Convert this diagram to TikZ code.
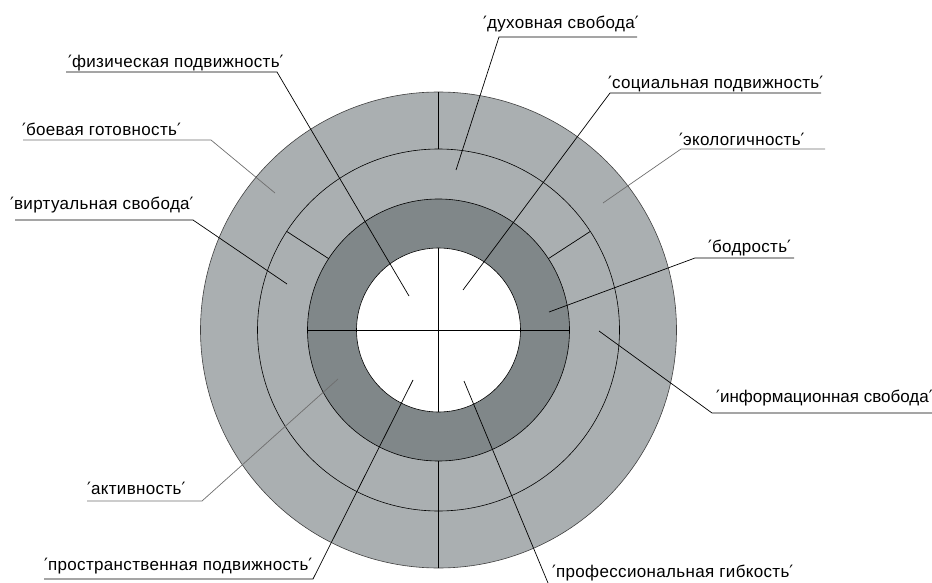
\documentclass[tikz,border=0pt]{standalone}
\usepackage{fontspec}
\usetikzlibrary{calc}
\setmainfont{Liberation Sans}
\newfontfamily\spacedfont{Liberation Sans}[LetterSpace=2]
\newfontfamily\primefont{DejaVu Sans}
\newcommand{\pq}{{\primefont ′}}
\definecolor{ringlight}{RGB}{170,175,177}
\definecolor{ringdark}{RGB}{128,135,137}
\definecolor{leadgray}{RGB}{110,110,110}
\begin{document}
\begin{tikzpicture}[x=1pt,y=-1pt,
  lbl/.style={anchor=base west, inner sep=0pt, font=\spacedfont\fontsize{17}{20}\selectfont},
  lblplain/.style={anchor=base west, inner sep=0pt, font=\rmfamily\fontsize{17}{20}\selectfont},
  lead/.style={line width=0.7pt, black},
  leadg/.style={line width=0.7pt, leadgray},
  ring/.style={draw=black, line width=0.6pt},
  divider/.style={line width=0.7pt, black}]
\useasboundingbox (0,0) rectangle (932,583);
\coordinate (C) at (438.5,330);
% rings
\draw[ring, draw=black!75, fill=ringlight] (C) circle (238pt);
\draw[ring, fill=ringlight] (C) circle (181pt);
\draw[ring, fill=ringdark] (C) circle (131pt);
\draw[ring, fill=white] (C) circle (82pt);
% dividers
\draw[divider] ($(C)+(90:181pt)$) -- ($(C)+(90:238pt)$);
\draw[divider] ($(C)+(270:131pt)$) -- ($(C)+(270:238pt)$);
\draw[divider] ($(C)+(33:131pt)$) -- ($(C)+(33:181pt)$);
\draw[divider] ($(C)+(147:131pt)$) -- ($(C)+(147:181pt)$);
\draw[divider] ($(C)+(0:131pt)$) -- ($(C)+(180:131pt)$);
\draw[divider] ($(C)+(90:82pt)$) -- ($(C)+(270:82pt)$);
% labels
\node[lbl] (t1) at (483,29) {\pq духовная свобода\pq};
\coordinate (u1a) at (499,37); \coordinate (u1b) at (637,37); \coordinate (e1) at (456,170);
\draw[lead] (e1) -- (u1a) -- (u1b);

\node[lbl] (t2) at (68,68) {\pq физическая подвижность\pq};
\coordinate (u2a) at (277,72); \coordinate (u2b) at (66,72); \coordinate (e2) at (409,296);
\draw[lead] (e2) -- (u2a) -- (u2b);

\node[lbl] (t3) at (22,136) {\pq боевая готовность\pq};
\coordinate (u3a) at (211,140); \coordinate (u3b) at (23,140); \coordinate (e3) at (275,193);
\draw[leadg] (e3) -- (u3a) -- (u3b);

\node[lbl] (t4) at (10,209) {\pq виртуальная свобода\pq};
\coordinate (u4a) at (193,220); \coordinate (u4b) at (15,220); \coordinate (e4) at (287,284);
\draw[lead] (e4) -- (u4a) -- (u4b);

\node[lbl] (t5) at (608,89) {\pq социальная подвижность\pq};
\coordinate (u5a) at (610,93); \coordinate (u5b) at (821,93); \coordinate (e5) at (463,290);
\draw[lead] (e5) -- (u5a) -- (u5b);

\node[lbl] (t6) at (679,146) {\pq экологичность\pq};
\coordinate (u6a) at (681,149); \coordinate (u6b) at (825,149); \coordinate (e6) at (603,203);
\draw[leadg] (e6) -- (u6a) -- (u6b);

\node[lbl] (t7) at (708,252) {\pq бодрость\pq};
\coordinate (u7a) at (695,258); \coordinate (u7b) at (794,258); \coordinate (e7) at (549,312);
\draw[lead] (e7) -- (u7a) -- (u7b);

\node[lblplain] (t8) at (716,402) {\pq информационная свобода\pq};
\coordinate (u8a) at (712,413); \coordinate (u8b) at (932,413); \coordinate (e8) at (599,331);
\draw[lead] (e8) -- (u8a) -- (u8b);

\node[lbl] (t9) at (87,494) {\pq активность\pq};
\coordinate (u9a) at (202,501); \coordinate (u9b) at (87,501); \coordinate (e9) at (338,379);
\draw[leadg] (e9) -- (u9a) -- (u9b);

\node[lbl] (t10) at (44,570) {\pq пространственная подвижность\pq};
\coordinate (u10a) at (313,579); \coordinate (u10b) at (44,579); \coordinate (e10) at (413,380);
\draw[lead] (e10) -- (u10a) -- (u10b);

\node[lbl] (t11) at (552,577) {\pq профессиональная гибкость\pq};
\coordinate (u11a) at (548,583); \coordinate (e11) at (464,381);
\draw[lead] (e11) -- (u11a);
\end{tikzpicture}
\end{document}
